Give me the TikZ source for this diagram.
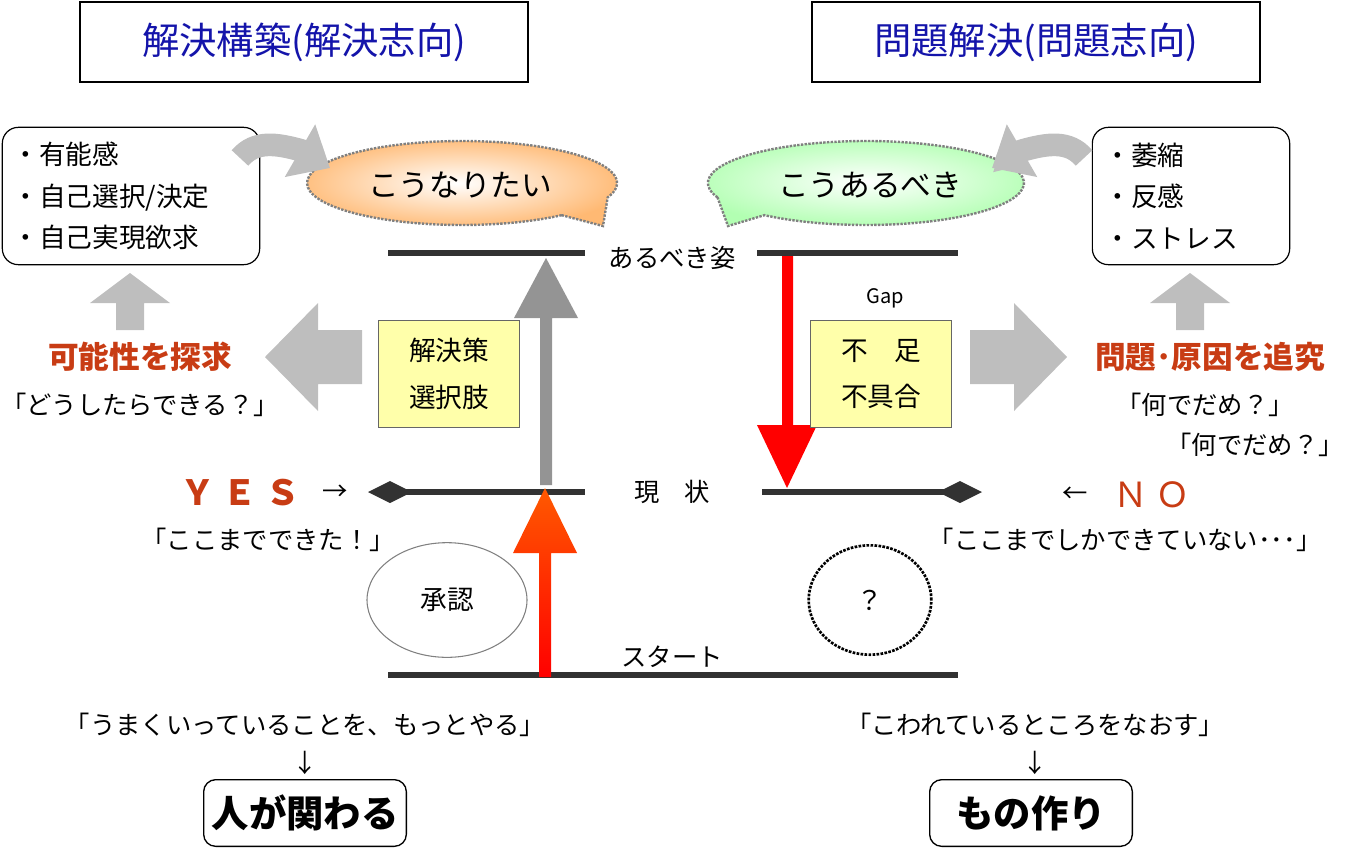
\documentclass[tikz,border=0pt]{standalone}
\usepackage{fontspec}
\setmainfont{Noto Sans CJK JP}
\usetikzlibrary{arrows.meta,shapes.geometric}
\definecolor{ttl}{RGB}{20,20,170}
\definecolor{org}{RGB}{200,60,20}
\definecolor{grayA}{RGB}{190,190,190}
\definecolor{ylw}{RGB}{255,255,170}
\definecolor{barc}{RGB}{50,50,50}
\tikzset{
  ttlbox/.style={draw=black,line width=0.8pt,minimum width=336pt,minimum height=60pt,font=\fontsize{28}{30}\selectfont,text=ttl},
  listbox/.style={draw=black,line width=0.9pt,rounded corners=12pt,align=left,font=\fontsize{20}{31}\selectfont,inner sep=0pt},
  ybox/.style={draw=black!60,fill=ylw,line width=0.6pt,minimum width=106pt,minimum height=80pt,align=center,font=\fontsize{20}{35}\selectfont},
  bar/.style={barc,line width=4pt},
  lbl/.style={font=\fontsize{19}{22}\selectfont},
  say/.style={font=\fontsize{19}{22}\selectfont},
  big/.style={font=\fontsize{23}{26}\selectfont\bfseries,text=org},
  endbox/.style={draw=black,line width=1pt,rounded corners=9pt,minimum width=152pt,minimum height=50pt,font=\fontsize{28}{30}\selectfont\bfseries},
}
\begin{document}
\begin{tikzpicture}[x=0.75pt,y=-0.75pt]
\useasboundingbox (0,0) rectangle (1351,847);
% titles
\node[ttlbox] (t1) at (304,42) {解決構築(解決志向)};
\node[ttlbox] (t2) at (1036,42) {問題解決(問題志向)};
% list boxes
\node[listbox,minimum width=193pt,minimum height=103pt,text width=178pt] (l1) at (131,196) {・有能感\\・自己選択/決定\\・自己実現欲求};
\node[listbox,minimum width=148pt,minimum height=103pt,text width=130pt] (l2) at (1191,196) {・萎縮\\・反感\\・ストレス};
% bubbles
\shadedraw[inner color=white,outer color=orange!55,draw=gray,densely dotted,line width=1.8pt]
  (462+155*0.643,183+42*0.766) arc[start angle=50,end angle=380,x radius=155,y radius=42] -- (603,226) -- cycle;
\node[font=\fontsize{23}{26}\selectfont] (b1) at (460,185) {こうなりたい};
\shadedraw[inner color=white,outer color=green!30,draw=gray,densely dotted,line width=1.8pt]
  (866-158*0.94,183+42*0.342) arc[start angle=160,end angle=490,x radius=158,y radius=42] -- (728,226) -- cycle;
\node[font=\fontsize{23}{26}\selectfont] (b2) at (870,185) {こうあるべき};
% curved arrows
\draw[grayA,line width=17pt,-{Triangle[length=26pt,width=44pt]}] (240,158) to[out=50,in=165] (300,150) to[out=-15,in=150] (330,168);
\draw[grayA,line width=17pt,-{Triangle[length=26pt,width=44pt]}] (1084,158) to[out=130,in=15] (1024,150) to[out=195,in=30] (992,168);
% bars
\coordinate (a1) at (388,253); \coordinate (a2) at (585,253);
\coordinate (a3) at (757,253); \coordinate (a4) at (958,253);
\draw[bar] (a1) -- (a2); \draw[bar] (a3) -- (a4);
\node[lbl] (aru) at (672,258) {あるべき姿};
\coordinate (m1) at (380,492); \coordinate (m2) at (585,492);
\coordinate (m3) at (762,492); \coordinate (m4) at (970,492);
\draw[bar] (m1) -- (m2); \draw[bar] (m3) -- (m4);
\fill[barc] (368,492) -- (390,481) -- (412,492) -- (390,503) -- cycle;
\fill[barc] (938,492) -- (960,481) -- (982,492) -- (960,503) -- cycle;
\node[lbl] (gen) at (672,492) {現　状};
\coordinate (s1) at (388,675); \coordinate (s2) at (958,675);
\draw[bar] (s1) -- (s2);
\node[lbl] (st) at (672,657) {スタート};
% vertical arrows
\fill[gray!80!black!70] (540,485) -- (552,485) -- (552,318) -- (578,318) -- (546,258) -- (514,318) -- (540,318) -- cycle;
\fill[red] (782,256) -- (793,256) -- (793,425) -- (817,425) -- (787,488) -- (757,425) -- (782,425) -- cycle;
\shade[bottom color=red,top color=orange!70!red] (539,677) -- (551,677) -- (551,553) -- (577,553) -- (545,488) -- (513,553) -- (539,553) -- cycle;
\node[font=\fontsize{15}{17}\selectfont] (gap) at (885,298) {Gap};
% yellow boxes
\node[ybox] (y1) at (449,374) {解決策\\選択肢};
\node[ybox] (y2) at (881,374) {不　足\\不具合};
% block arrows
\fill[grayA] (362,330) -- (318,330) -- (318,303) -- (265,357) -- (318,411) -- (318,384) -- (362,384) -- cycle;
\fill[grayA] (970,330) -- (1014,330) -- (1014,303) -- (1067,357) -- (1014,411) -- (1014,384) -- (970,384) -- cycle;
\fill[grayA] (116,330) -- (144,330) -- (144,303) -- (170,303) -- (130,273) -- (90,303) -- (116,303) -- cycle;
\fill[grayA] (1176,330) -- (1204,330) -- (1204,303) -- (1230,303) -- (1190,273) -- (1150,303) -- (1176,303) -- cycle;
% texts
\node[big] (k1) at (140,357) {可能性を探求};
\node[say] (k2) at (140,405) {「どうしたらできる？」};
\node[big] (k3) at (1210,357) {問題･原因を追究};
\node[say] (k4) at (1205,405) {「何でだめ？」};
\node[say] (k5) at (1255,445) {「何でだめ？」};
\node[font=\fontsize{26}{28}\selectfont\bfseries,text=org] (yes) at (240,493) {Ｙ Ｅ Ｓ};
\node[say] (ya) at (335,493) {→};
\node[say] (ys) at (268,540) {「ここまでできた！」};
\node[say] (na) at (1075,495) {←};
\node[font=\fontsize{26}{28}\selectfont,text=org] (no) at (1152,495) {Ｎ Ｏ};
\node[say] (ns) at (1125,540) {「ここまでしかできていない･･･」};
\node[draw=gray,line width=0.8pt,ellipse,minimum width=120pt,minimum height=86pt,font=\fontsize{20}{22}\selectfont] (ok) at (447,600) {承認};
\node[draw=black,densely dotted,line width=2pt,ellipse,minimum width=92pt,minimum height=82pt,font=\fontsize{20}{22}\selectfont] (q) at (870,600) {？};
% bottom
\node[say] (u1) at (305,725) {「うまくいっていることを、もっとやる」};
\node[say] (u2) at (305,763) {↓};
\node[endbox] (u3) at (305,813) {人が関わる};
\node[say] (v1) at (1035,725) {「こわれているところをなおす」};
\node[say] (v2) at (1035,763) {↓};
\node[endbox] (v3) at (1031,813) {もの作り};
\end{tikzpicture}
\end{document}
